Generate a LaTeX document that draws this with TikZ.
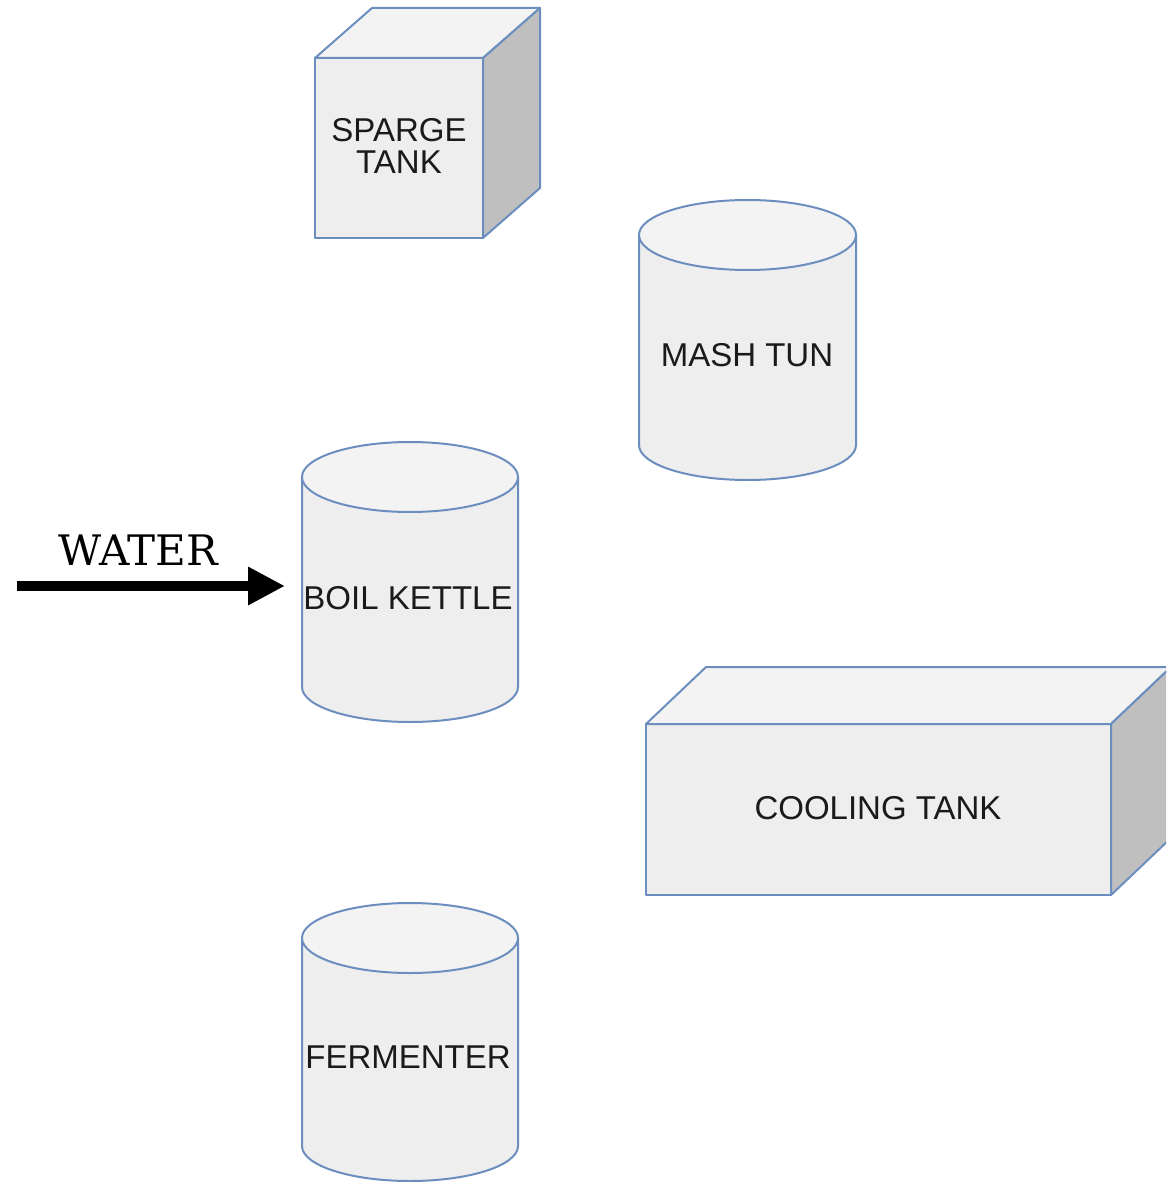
\documentclass[tikz,border=0pt]{standalone}
\usepackage{fontspec}
\usetikzlibrary{arrows.meta}
\newfontfamily\labfont{Liberation Sans}
\newfontfamily\watfont{DejaVu Serif}
\definecolor{edgeblue}{HTML}{6C8EBF}
\definecolor{frontgray}{HTML}{EEEEEE}
\definecolor{topgray}{HTML}{F3F3F3}
\definecolor{sidegray}{HTML}{BFBFBF}
\definecolor{textdark}{HTML}{1A1A1A}
\newcommand\cylshape[5]{% cx, ytop, ybottom, rx, ry
  \path[vessel, fill=frontgray]
    (#1-#4,#2) -- (#1-#4,#3) arc[start angle=180, end angle=0, x radius=#4, y radius=#5]
    -- (#1+#4,#2) -- cycle;
  \path[vessel, fill=topgray] (#1,#2) ellipse[x radius=#4, y radius=#5];
}
\begin{document}
\begin{tikzpicture}[x=1pt,y=-1pt,
  vessel/.style={draw=edgeblue, line width=2pt, line join=round},
  lab/.style={font=\labfont\fontsize{33}{32}\selectfont, text=textdark, inner sep=0pt, align=center},
  flow/.style={line width=10pt, -{Triangle[length=37pt,width=36pt]}}]
\useasboundingbox (0,0) rectangle (1166,1182);
\clip (0,0) rectangle (1166,1182);
% sparge tank cube
\path[vessel, fill=frontgray] (315,58) rectangle (483,238);
\path[vessel, fill=topgray] (315,58) -- (372,8) -- (540,8) -- (483,58) -- cycle;
\path[vessel, fill=sidegray] (483,58) -- (540,8) -- (540,188) -- (483,238) -- cycle;
\node[lab] (sparge) at (399,146) {SPARGE\\TANK};
% mash tun
\cylshape{747.5}{235}{445}{108.5}{35}
\node[lab] (mash) at (747,355) {MASH TUN};
% boil kettle
\cylshape{410}{477}{687}{108}{35}
\node[lab] (kettle) at (408,598) {BOIL KETTLE};
% cooling tank
\path[vessel, fill=frontgray] (646,724) rectangle (1111,895);
\path[vessel, fill=topgray] (646,724) -- (706,667) -- (1171,667) -- (1111,724) -- cycle;
\path[vessel, fill=sidegray] (1111,724) -- (1171,667) -- (1171,838) -- (1111,895) -- cycle;
\node[lab] (cooling) at (878,808) {COOLING TANK};
% fermenter
\cylshape{410}{938}{1146}{108}{35}
\node[lab] (ferm) at (408,1057) {FERMENTER};
% water inlet
\coordinate (wstart) at (17,586);
\coordinate (wend) at (285,586);
\draw[flow] (wstart) -- (wend);
\node[font=\watfont\fontsize{42}{42}\selectfont, inner sep=0pt] (water) at (138,550) {WATER};
\end{tikzpicture}
\end{document}
